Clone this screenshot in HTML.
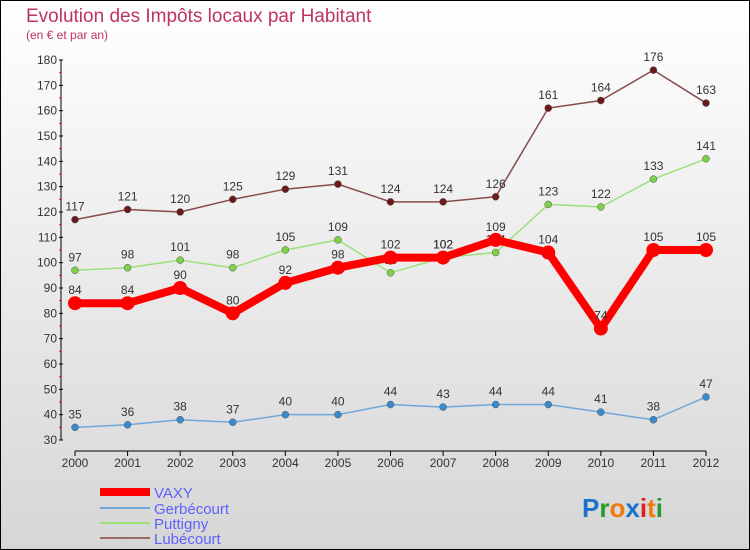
<!DOCTYPE html>
<html><head><meta charset="utf-8"><style>
body{margin:0}
#c{width:750px;height:550px;position:relative;overflow:hidden;box-sizing:border-box;border:1px solid #000;background:linear-gradient(#fff,#d6d6d6);font-family:"Liberation Sans",sans-serif}
</style></head><body>
<div id="c">
<svg id="s" width="750" height="550" style="position:absolute;left:-1px;top:-1px">
<text x="26" y="22" font-size="19" fill="#c0335f">Evolution des Impôts locaux par Habitant</text>
<text x="26" y="39" font-size="12" fill="#c0335f">(en € et par an)</text>
<g id="axes"></g><g id="series"></g>
<g>
<rect x="100" y="488" width="50" height="8" fill="#f00"/>
<text x="154" y="498" font-size="15" fill="#6060ff">VAXY</text>
<line x1="100" y1="508" x2="150" y2="508" stroke="#6fa8d8" stroke-width="2"/>
<text x="154" y="514" font-size="15" fill="#6060ff">Gerbécourt</text>
<line x1="100" y1="523" x2="150" y2="523" stroke="#9de07a" stroke-width="2"/>
<text x="154" y="529" font-size="15" fill="#6060ff">Puttigny</text>
<line x1="100" y1="538" x2="150" y2="538" stroke="#9a6a6a" stroke-width="2"/>
<text x="154" y="544" font-size="15" fill="#6060ff">Lubécourt</text>
</g>
<text x="582" y="517" font-size="26" font-weight="bold"><tspan fill="#1a73c8">P</tspan><tspan fill="#2a9a2a">r</tspan><tspan fill="#f07a10">o</tspan><tspan fill="#1a73c8">x</tspan><tspan fill="#e02020">i</tspan><tspan fill="#f07a10">t</tspan><tspan fill="#2a9a2a">i</tspan></text>
</svg>
</div>
<script>
const years=[2000,2001,2002,2003,2004,2005,2006,2007,2008,2009,2010,2011,2012];
const yTicks=[30,40,50,60,70,80,90,100,110,120,130,140,150,160,170,180];
const vaxy=[84,84,90,80,92,98,102,102,109,104,74,105,105];
const gerbecourt=[35,36,38,37,40,40,44,43,44,44,41,38,47];
const puttigny=[97,98,101,98,105,109,96,102,104,123,122,133,141];
const lubecourt=[117,121,120,125,129,131,124,124,126,161,164,176,163];
const NS="http://www.w3.org/2000/svg";
const X=i=>75+i*(706-75)/(years.length-1);
const Y=v=>440-(v-30)*(380/150);
function mk(tag,attrs,parent){const e=document.createElementNS(NS,tag);for(const k in attrs)e.setAttribute(k,attrs[k]);parent.appendChild(e);return e;}
const ax=document.getElementById('axes'),sr=document.getElementById('series');
let l=mk('line',{x1:61,y1:Y(180),x2:61,y2:Y(30),stroke:'#000','stroke-width':1},ax);


yTicks.forEach(v=>{
 const t=mk('line',{x1:59,y1:Y(v),x2:63,y2:Y(v),stroke:'#000'},ax);
 
 
 if(v<180){const m=mk('line',{x1:59,y1:Y(v+5),x2:61,y2:Y(v+5),stroke:'#f00'},ax);
 
 }
 const tx=mk('text',{x:57,y:Y(v)+4,'text-anchor':'end','font-size':12,fill:'#333'},ax);
 tx.textContent=v;
 
 
});
l=mk('line',{x1:X(0),y1:451,x2:X(12),y2:451,stroke:'#000'},ax);


years.forEach((y,i)=>{
 const t=mk('line',{x1:X(i),y1:451,x2:X(i),y2:456,stroke:'#000'},ax);
 
 
 const tx=mk('text',{x:X(i),y:467,'text-anchor':'middle','font-size':12,fill:'#333'},ax);
 tx.textContent=y;
 
 
});
function draw(name,data,color,w,r,dot){
 const g=mk('g',{},sr);
 
 
 const p=mk('polyline',{points:data.map((v,i)=>X(i)+','+Y(v)).join(' '),fill:'none',stroke:color,'stroke-width':w,'stroke-linejoin':'round'},g);
 
 
 data.forEach((v,i)=>{
  const c=mk('circle',{cx:X(i),cy:Y(v),r:r,fill:dot,stroke:w>3?'none':'#555','stroke-width':0.5},g);
  
  
  const t=mk('text',{x:X(i),y:Y(v)-9,'text-anchor':'middle','font-size':12,fill:'#333'},g);
  t.textContent=v;
  
  
 });
}
draw('lubecourt',lubecourt,'#8a4a4a',1.5,3.5,'#6a1a1a');
draw('puttigny',puttigny,'#9de07a',1.5,3.5,'#7cd04a');
draw('gerbecourt',gerbecourt,'#6fa8d8',1.5,3.5,'#3a8ad0');
draw('vaxy',vaxy,'#f00',8,7,'#f00');
</script>
</body></html>
